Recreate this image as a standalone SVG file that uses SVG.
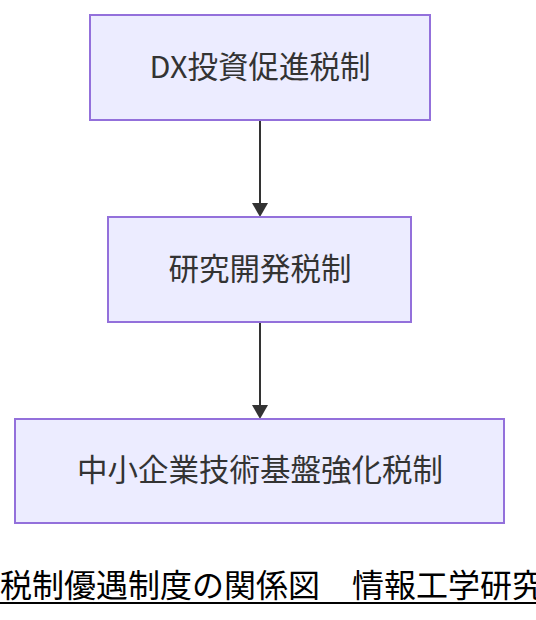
<svg xmlns="http://www.w3.org/2000/svg" width="536" height="620" viewBox="0 0 536 620">
<defs>
<style>
.node rect{fill:#ECECFF;stroke:#9370DB;stroke-width:2}
.node text{font-family:"Noto Sans CJK JP","Noto Sans",sans-serif;font-size:30.5px;fill:#333;text-anchor:middle;dominant-baseline:central}
.edge{stroke:#333;stroke-width:2;fill:none}
.title{font-family:"Noto Sans CJK JP",sans-serif;font-size:32px;fill:#000}
</style>
</defs>
<rect width="536" height="620" fill="#fff"/>
<g id="connectors">
<line class="edge" x1="260" y1="121" x2="260" y2="203"/>
<path d="M252,203 L268,203 L260,217 z" fill="#333"/>
<line class="edge" x1="260" y1="323" x2="260" y2="405"/>
<path d="M252,405 L268,405 L260,419 z" fill="#333"/>
</g>
<g id="node1" class="node">
<rect x="90" y="15" width="340" height="105"/>
<text x="260" y="65">DX投資促進税制</text>
</g>
<g id="node2" class="node">
<rect x="108" y="217" width="303" height="105"/>
<text x="260" y="267">研究開発税制</text>
</g>
<g id="node3" class="node">
<rect x="15" y="419" width="489" height="104"/>
<text x="260" y="468">中小企業技術基盤強化税制</text>
</g>
<g id="title">
<text class="title" x="0" y="597">税制優遇制度の関係図　情報工学研究</text>
<line x1="0" y1="603" x2="536" y2="603" stroke="#000" stroke-width="2"/>
</g>
</svg>
